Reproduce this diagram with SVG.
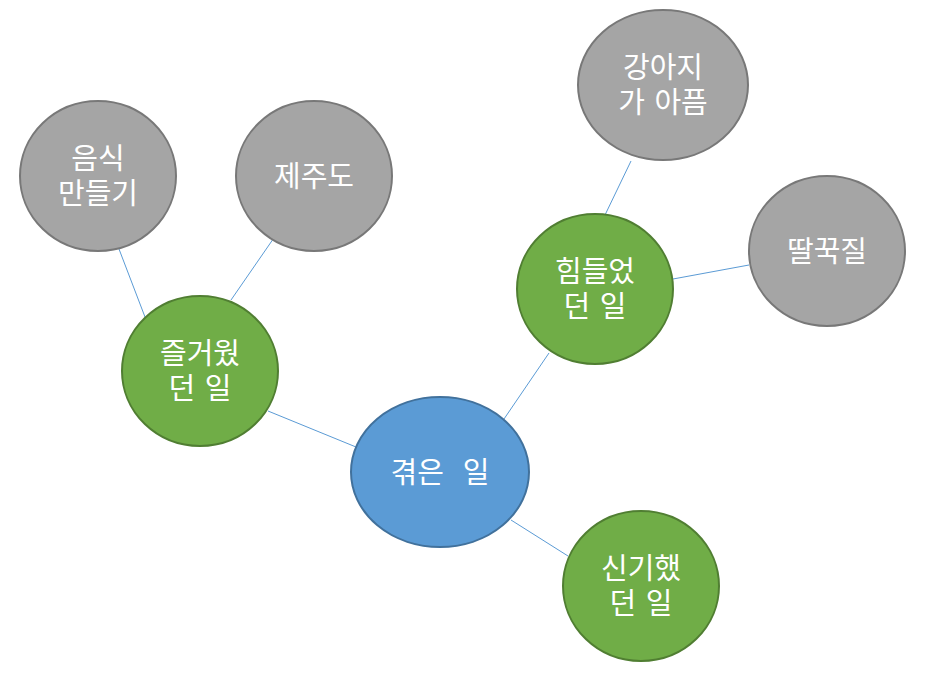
<svg xmlns="http://www.w3.org/2000/svg" width="928" height="686" viewBox="0 0 928 686">
<style>
.c{stroke:#5B9BD5;stroke-width:1}
.blue{fill:#5B9BD5;stroke:#41719C;stroke-width:2}
.green{fill:#70AD47;stroke:#507E32;stroke-width:2}
.gray{fill:#A5A5A5;stroke:#787878;stroke-width:2}
text{font-family:"Malgun Gothic","Noto Sans CJK KR",sans-serif;font-size:29px;word-spacing:3px;fill:#fff;text-anchor:middle;white-space:pre}
</style>
<rect width="928" height="686" fill="#fff"/>
<g id="connectors">
<line class="c" x1="268" y1="411" x2="356" y2="447"/>
<line class="c" x1="549" y1="353" x2="504" y2="419"/>
<line class="c" x1="511" y1="520" x2="568" y2="556"/>
<line class="c" x1="119" y1="249" x2="145" y2="317"/>
<line class="c" x1="278" y1="232" x2="231" y2="300"/>
<line class="c" x1="631" y1="161" x2="605" y2="215"/>
<line class="c" x1="749" y1="265" x2="673" y2="279"/>
</g>
<g id="center"><ellipse class="blue" cx="440" cy="472" rx="89" ry="75"/><text x="440" y="483" xml:space="preserve">겪은  일</text></g>
<g id="fun"><ellipse class="green" cx="200" cy="371" rx="78" ry="75"/><text x="200" y="364">즐거웠</text><text x="200" y="399">던 일</text></g>
<g id="hard"><ellipse class="green" cx="595" cy="289" rx="78" ry="75"/><text x="595" y="282">힘들었</text><text x="595" y="317">던 일</text></g>
<g id="amazing"><ellipse class="green" cx="641" cy="586" rx="78" ry="75"/><text x="641" y="579">신기했</text><text x="641" y="614">던 일</text></g>
<g id="cooking"><ellipse class="gray" cx="98" cy="176" rx="78" ry="75"/><text x="98" y="169">음식</text><text x="98" y="204">만들기</text></g>
<g id="jeju"><ellipse class="gray" cx="314" cy="176" rx="78" ry="75"/><text x="314" y="187">제주도</text></g>
<g id="puppy"><ellipse class="gray" cx="663" cy="85" rx="85" ry="75"/><text x="663" y="78">강아지</text><text x="663" y="113">가 아픔</text></g>
<g id="hiccup"><ellipse class="gray" cx="827" cy="251" rx="78" ry="75"/><text x="827" y="262">딸꾹질</text></g>
</svg>
